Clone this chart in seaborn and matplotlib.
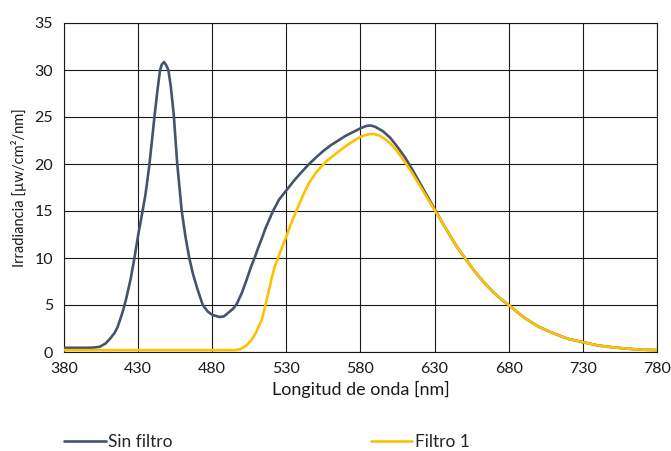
import matplotlib
matplotlib.use("Agg")
import matplotlib.pyplot as plt
import seaborn as sns
import pandas as pd

# Sin filtro
nm_sin = [380, 395, 400, 404, 408, 411, 414, 416, 418, 420, 422, 425, 427.5, 430, 433,
          435, 437.5, 439, 441, 443, 444.8, 446, 447.5, 449, 450.4, 452, 454, 456.4,
          459.4, 462, 464.5, 467, 470, 473.6, 477, 480, 485, 488, 491, 494, 496.5, 500,
          503, 506, 509, 511, 513, 516, 521, 525, 530, 535, 540, 545, 550, 555, 560,
          565, 570, 575, 580, 584, 587, 590, 595, 600, 605, 610, 615, 620, 625, 630,
          635, 640, 645, 650, 655, 660, 665, 670, 675, 680, 690, 700, 710, 720, 730,
          740, 750, 760, 770, 780]
val_sin = [0.45, 0.45, 0.47, 0.55, 0.9, 1.4, 2.0, 2.6, 3.5, 4.5, 5.7, 7.8, 10.0, 12.4, 15.0,
           16.8, 19.8, 22.0, 25.0, 27.8, 30.0, 30.6, 30.85, 30.5, 30.0, 28.3, 25.3, 20.0,
           15.0, 12.2, 10.0, 8.3, 6.7, 5.0, 4.3, 3.95, 3.72, 3.8, 4.2, 4.6, 5.1, 6.3,
           7.6, 9.0, 10.2, 11.1, 11.9, 13.2, 15.0, 16.2, 17.2, 18.2, 19.1, 19.95, 20.7, 21.4, 22.0,
           22.5, 23.0, 23.4, 23.8, 24.05, 24.1, 23.95, 23.5, 22.8, 21.8, 20.7, 19.4, 18.0, 16.6, 15.2,
           13.8, 12.5, 11.2, 10.1, 9.0, 8.0, 7.1, 6.3, 5.6, 5.0, 3.7, 2.7, 2.0, 1.4, 1.05,
           0.7, 0.5, 0.35, 0.25, 0.2]

# Filtro 1
nm_f1 = [380, 495, 499, 503, 506, 509, 511, 513.3, 515.6, 518, 520, 522, 524.6, 527, 530,
         533, 537, 541, 545, 550, 557, 565, 570, 575, 580, 585, 589, 593, 597, 600, 605,
         610, 615, 620, 625, 630, 635, 640, 645, 650, 655, 660, 665, 670, 675, 680, 690,
         700, 710, 720, 730, 740, 750, 760, 770, 780]
val_f1 = [0.2, 0.2, 0.3, 0.7, 1.2, 1.9, 2.6, 3.4, 4.8, 6.4, 7.8, 9.0, 10.1, 11.1, 12.3,
          13.6, 15.1, 16.6, 17.9, 19.1, 20.3, 21.3, 21.9, 22.4, 22.9, 23.15, 23.2, 23.0, 22.6, 22.2, 21.3,
          20.2, 19.0, 17.7, 16.4, 15.1, 13.8, 12.5, 11.2, 10.1, 9.0, 8.0, 7.1, 6.3, 5.6, 5.0, 3.7,
          2.7, 2.0, 1.4, 1.05, 0.7, 0.5, 0.35, 0.25, 0.2]

x_ticks = list(range(380, 781, 50))
y_ticks = list(range(0, 36, 5))

df = pd.concat([
    pd.DataFrame({"nm": nm_sin, "val": val_sin, "serie": "Sin filtro"}),
    pd.DataFrame({"nm": nm_f1, "val": val_f1, "serie": "Filtro 1"}),
])

sns.set_style("white")
plt.rcParams["font.family"] = ["Lato", "DejaVu Sans"]
txt = "#1a1a1a"

fig = plt.figure(figsize=(6.71, 4.51), dpi=100)
ax = fig.add_axes([64 / 671, 1 - 352 / 451, 593 / 671, 329 / 451])

sns.lineplot(data=df, x="nm", y="val", hue="serie", hue_order=["Sin filtro", "Filtro 1"],
             palette=["#44546A", "#FFC000"], linewidth=1.9, sort=True, ax=ax, legend=False)
ax.lines[0].set_zorder(3)
ax.lines[1].set_zorder(4)

ax.set_xlim(380, 780)
ax.set_ylim(0, 35)
ax.set_xticks(x_ticks)
ax.set_yticks(y_ticks)
ax.tick_params(axis="x", length=0, labelsize=11.5, colors=txt, pad=7.5)
ax.tick_params(axis="y", length=0, labelsize=11.5, colors=txt, pad=8)
ax.grid(True, color=txt, linewidth=0.8)
for s in ax.spines.values():
    s.set_color(txt)
    s.set_linewidth(0.8)
ax.set_xlabel("Longitud de onda [nm]", fontsize=13, color=txt, labelpad=3)
ax.set_ylabel("Irradiancia [µw/cm²/nm]", fontsize=10.5, color=txt, labelpad=5)

leg = fig.legend(handles=ax.lines[:2], labels=["Sin filtro", "Filtro 1"],
                 loc="center left", bbox_to_anchor=(64 / 671, 1 - 442 / 451),
                 ncol=2, frameon=False, fontsize=12.5, handlelength=2.4,
                 handletextpad=0.15, columnspacing=11.4, borderpad=0, borderaxespad=0)

fig.savefig("out.png", dpi=100)
